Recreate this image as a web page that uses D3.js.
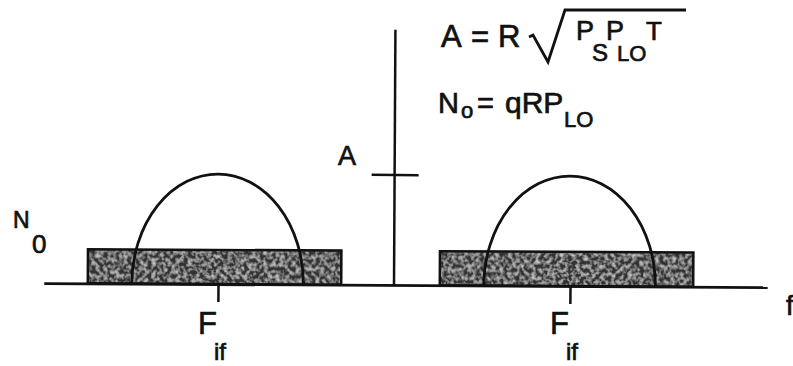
<!DOCTYPE html>
<html lang="en">
<head>
  <meta charset="UTF-8">
  <title>Heterodyne spectrum</title>
  <style>
    body { margin: 0; background: #fff; }
    text { font-family: "Liberation Sans", Arial, sans-serif; fill: #111; stroke: #111; stroke-width: 0.7px; }
  </style>
</head>
<body>
  <svg id="svg" width="793" height="366"></svg>

  <script src="https://d3js.org/d3.v7.min.js"></script>
  <script>
    // frequency axis in units of F_if, amplitude in units of A
    const bandCenters = [-1, 1]          // -F_if and +F_if
    const noiseBand = [-0.74, 0.70]      // noise pedestal edges, relative to centre
    const signalBand = [-0.49, 0.485]    // signal lobe edges, relative to centre
    const noiseLevel = 0.31              // N0
    const signalLevel = 1                // A
    const freqExtent = [-1.99, 2.12]
    const ampTop = 2.32

    const svg = d3.select('#svg')

    const x = d3.scaleLinear().domain([-1, 1]).range([218, 570])
    const y = d3.scaleLinear().domain([0, 1]).range([285, 175])

    // grainy fill for the noise pedestals
    const defs = svg.append('defs')
    const grain = defs.append('filter').attr('id', 'grain')
      .attr('x', 0).attr('y', 0).attr('width', '100%').attr('height', '100%')
    grain.append('feTurbulence').attr('type', 'fractalNoise')
      .attr('baseFrequency', 0.25).attr('numOctaves', 3).attr('seed', 7).attr('result', 'n')
    grain.append('feColorMatrix').attr('in', 'n').attr('type', 'matrix')
      .attr('values', '0 0 0 0 0.6  0 0 0 0 0.6  0 0 0 0 0.6  2.4 0 0 0 -1.0')
      .attr('result', 'g')
    grain.append('feComposite').attr('in', 'g').attr('in2', 'SourceGraphic')
      .attr('operator', 'in').attr('result', 'gc')
    const merge = grain.append('feMerge')
    merge.append('feMergeNode').attr('in', 'SourceGraphic')
    merge.append('feMergeNode').attr('in', 'gc')

    // the scanned figure is tilted slightly
    const plot = svg.append('g')
      .attr('transform', `rotate(0.32, ${x(0)}, ${y(0)})`)

    // noise pedestals
    plot.selectAll('rect.noise')
      .data(bandCenters)
      .join('rect')
      .attr('class', 'noise')
      .attr('x', c => x(c + noiseBand[0]))
      .attr('width', c => x(c + noiseBand[1]) - x(c + noiseBand[0]))
      .attr('y', y(noiseLevel))
      .attr('height', y(0) - y(noiseLevel))
      .attr('fill', '#333')
      .attr('filter', 'url(#grain)')

    plot.selectAll('rect.edge')
      .data(bandCenters)
      .join('rect')
      .attr('class', 'edge')
      .attr('x', c => x(c + noiseBand[0]))
      .attr('width', c => x(c + noiseBand[1]) - x(c + noiseBand[0]))
      .attr('y', y(noiseLevel))
      .attr('height', y(0) - y(noiseLevel))
      .attr('fill', 'none')
      .attr('stroke', '#111')
      .attr('stroke-width', 2.5)

    // signal lobes
    plot.selectAll('path.lobe')
      .data(bandCenters)
      .join('path')
      .attr('class', 'lobe')
      .attr('d', c => {
        const x0 = x(c + signalBand[0]), x1 = x(c + signalBand[1])
        const rx = (x1 - x0) / 2, ry = y(0) - y(signalLevel)
        return `M${x0},${y(0)} A${rx},${ry} 0 0 1 ${x1},${y(0)}`
      })
      .attr('fill', 'none')
      .attr('stroke', '#111')
      .attr('stroke-width', 2.8)

    // frequency axis with ticks at +/- F_if
    const xAxis = d3.axisBottom(d3.scaleLinear().domain(freqExtent)
        .range([x(freqExtent[0]), x(freqExtent[1])]))
      .tickValues(bandCenters)
      .tickSize(18)
      .tickSizeOuter(0)
      .tickFormat('')
    const gx = plot.append('g')
      .attr('transform', `translate(0,${y(0)})`)
      .call(xAxis)
    gx.select('.domain').attr('stroke', '#111').attr('stroke-width', 2.8)
    gx.selectAll('.tick line').attr('stroke', '#111').attr('stroke-width', 2.5)

    // amplitude axis with the A mark
    plot.append('line')
      .attr('x1', x(0)).attr('x2', x(0))
      .attr('y1', y(0)).attr('y2', y(ampTop))
      .attr('stroke', '#111').attr('stroke-width', 2.5)
    plot.append('line')
      .attr('x1', x(0) - 23).attr('x2', x(0) + 24)
      .attr('y1', y(signalLevel)).attr('y2', y(signalLevel))
      .attr('stroke', '#111').attr('stroke-width', 2.5)

    // labels
    svg.append('text').attr('x', 338).attr('y', 165)
      .attr('font-size', 27).text('A')

    svg.append('text').attr('x', 13).attr('y', 228)
      .attr('font-size', 23).text('N')
    svg.append('text').attr('x', 32).attr('y', 253)
      .attr('font-size', 26).text('0')

    svg.selectAll('text.fmain')
      .data(bandCenters)
      .join('text')
      .attr('class', 'fmain')
      .attr('x', c => x(c) - 20)
      .attr('y', 334)
      .attr('font-size', 31)
      .text('F')
    svg.selectAll('text.fsub')
      .data(bandCenters)
      .join('text')
      .attr('class', 'fsub')
      .attr('x', c => x(c) - 4)
      .attr('y', 360)
      .attr('font-size', 24)
      .text('if')

    svg.append('text').attr('x', 786).attr('y', 315)
      .attr('font-size', 27).text('f')

    // A = R sqrt(Ps PLO T)
    const eq = svg.append('g')
    eq.append('text').attr('x', 441).attr('y', 47).attr('font-size', 31).text('A')
    eq.append('text').attr('x', 471).attr('y', 47).attr('font-size', 31).text('=')
    eq.append('text').attr('x', 498).attr('y', 47).attr('font-size', 31).text('R')
    eq.append('path')
      .attr('d', 'M529,37 L533,35 L548,62 L565,10 L686,10')
      .attr('fill', 'none').attr('stroke', '#111').attr('stroke-width', 2.8)
      .attr('stroke-linejoin', 'miter')
    eq.append('text').attr('x', 576).attr('y', 40).attr('font-size', 27).text('P')
    eq.append('text').attr('x', 592).attr('y', 61).attr('font-size', 24).text('S')
    eq.append('text').attr('x', 606).attr('y', 40).attr('font-size', 27).text('P')
    eq.append('text').attr('x', 617).attr('y', 61).attr('font-size', 22).text('LO')
    eq.append('text').attr('x', 646).attr('y', 40).attr('font-size', 26).text('T')

    // No = qRPLO
    eq.append('text').attr('x', 438).attr('y', 113).attr('font-size', 29).text('N')
    eq.append('text').attr('x', 461).attr('y', 118).attr('font-size', 22).text('o')
    eq.append('text').attr('x', 477).attr('y', 113).attr('font-size', 29).text('=')
    eq.append('text').attr('x', 505).attr('y', 113).attr('font-size', 30).text('qRP')
    eq.append('text').attr('x', 564).attr('y', 127).attr('font-size', 22).text('LO')
  </script>
</body>
</html>
